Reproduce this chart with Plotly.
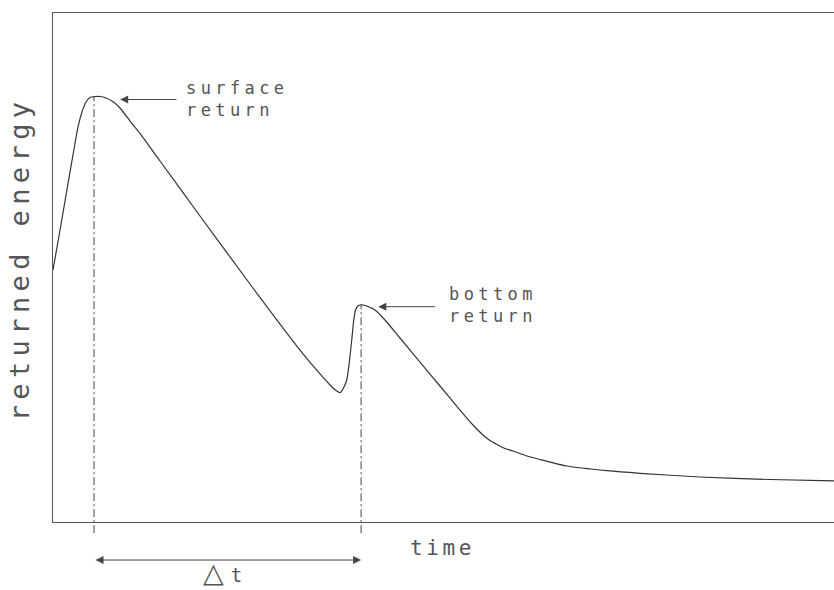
import plotly.graph_objects as go

# Echo waveform: returned energy against time (arbitrary units)
time = [0.00, 0.90, 1.79, 2.69, 3.20, 3.71, 4.23, 4.74, 5.38, 6.02, 6.79,
        7.55, 8.58, 9.86, 11.14, 13.70, 18.82, 25.22, 31.63, 34.19, 35.47,
        36.24, 36.75, 37.13, 37.61, 37.90, 38.25, 38.48, 38.67, 38.92,
        39.31, 39.69, 40.33, 41.23, 42.51, 44.43, 46.99, 49.55, 52.11,
        53.78, 55.06, 55.95, 56.85, 57.87, 58.90, 60.69, 62.36, 65.81,
        70.93, 75.16, 82.84, 91.81, 100.0]
energy = [49.51, 57.37, 65.32, 73.28, 77.60, 80.55, 82.51, 83.40, 83.60,
          83.60, 83.30, 82.71, 81.34, 78.78, 76.33, 70.92, 60.12, 46.76,
          33.79, 29.08, 26.92, 25.83, 25.40, 26.13, 27.90, 30.84, 35.76,
          39.29, 41.26, 42.24, 42.63, 42.63, 42.34, 41.65, 39.69, 36.15,
          31.43, 26.72, 22.00, 19.06, 17.09, 16.01, 15.23, 14.44, 13.95,
          12.97, 12.28, 11.00, 10.08, 9.57, 8.84, 8.35, 8.06]

# The two echoes: time and energy of each peak
peak_time = [5.25, 39.45]
peak_energy = [83.6, 42.6]
peak_labels = ["surface<br>return", "bottom<br>return"]
# where each label sits (time, energy) and where its pointer arrow starts
label_pos = [(16.8, 83.2), (50.5, 42.7)]
arrow_head = [(8.6, 83.0), (41.65, 42.3)]
arrow_tail = [(16.0, 83.0), (49.1, 42.3)]

x_title = "time"
y_title = "returned energy"
delta_label = ("<span style='letter-spacing:7px'>\u25b3</span>"
               "<span style='font-size:19px;font-family:DejaVu Sans Mono'>t</span>")

Y_MAX = 100.0
INK = "#333333"
TXT = "#555555"
MONO = "DejaVu Sans Mono"


def spaced(text, px):
    return f"<span style='letter-spacing:{px}px'>{text}</span>"


fig = go.Figure()
fig.add_trace(go.Scatter(
    x=time, y=energy, mode="lines",
    line=dict(color=INK, width=1.2, shape="spline", smoothing=0.5),
    hoverinfo="skip", showlegend=False,
))

shapes = []
annotations = []

# dash-dot markers dropped from each peak to just below the time axis
for t, e in zip(peak_time, peak_energy):
    shapes.append(dict(
        type="line", xref="x", yref="y domain",
        x0=t, x1=t, y0=-0.022, y1=e / Y_MAX,
        line=dict(color="#444444", width=1, dash="8px,3px,2px,3px"),
    ))

# peak labels with their pointer arrows
for lab, (lx, ly), (hx, hy), (tx, ty) in zip(peak_labels, label_pos,
                                              arrow_head, arrow_tail):
    lines = lab.split("<br>")
    annotations.append(dict(
        x=lx, y=ly, xref="x", yref="y",
        text="<br>".join(spaced(s, 4.4) for s in lines),
        showarrow=False, xanchor="left", yanchor="middle", align="left",
        font=dict(family=MONO, size=17, color=TXT),
    ))
    annotations.append(dict(
        x=hx, y=hy, xref="x", yref="y",
        ax=tx, ay=ty, axref="x", ayref="y",
        text="", showarrow=True, arrowhead=2, arrowsize=1.6,
        arrowwidth=1, arrowcolor="#444444", standoff=0,
    ))

# double-headed interval arrow between the two peaks
annotations.append(dict(
    x=peak_time[1], y=-0.0747, xref="x", yref="paper",
    ax=peak_time[0], ay=0, axref="x", ayref="pixel",
    text="", showarrow=True, arrowhead=2, startarrowhead=2,
    arrowside="end+start", arrowsize=1.6, startarrowsize=1.6,
    arrowwidth=1, arrowcolor="#444444", standoff=0, startstandoff=0,
))
annotations.append(dict(
    x=(peak_time[0] + peak_time[1]) / 2 - 0.6, y=-0.1316,
    xref="x", yref="paper", text=delta_label, showarrow=False,
    xanchor="center", yanchor="bottom", borderpad=0,
    font=dict(family="DejaVu Sans", size=27, color=TXT),
))

# axis titles
annotations.append(dict(
    x=45.4, y=-0.051, xref="x", yref="paper",
    text=spaced(x_title, 3.6), showarrow=False,
    xanchor="left", yanchor="middle",
    font=dict(family=MONO, size=21, color=TXT),
))
annotations.append(dict(
    x=0, y=0.516, xref="paper", yref="paper", xshift=-34,
    text=spaced(y_title, 5.4), showarrow=False, textangle=-90,
    xanchor="center", yanchor="middle",
    font=dict(family=MONO, size=27, color=TXT),
))

fig.update_layout(
    width=834, height=590,
    margin=dict(l=53, r=0, t=13, b=68),
    paper_bgcolor="white", plot_bgcolor="white",
    shapes=shapes, annotations=annotations,
    xaxis=dict(range=[0, 100], showgrid=False, zeroline=False,
               showticklabels=False, ticks="", showline=True,
               mirror=True, linecolor="#555555", linewidth=1),
    yaxis=dict(range=[0, Y_MAX], showgrid=False, zeroline=False,
               showticklabels=False, ticks="", showline=True,
               mirror=False, linecolor="#555555", linewidth=1),
)

fig.write_html("out.html")
